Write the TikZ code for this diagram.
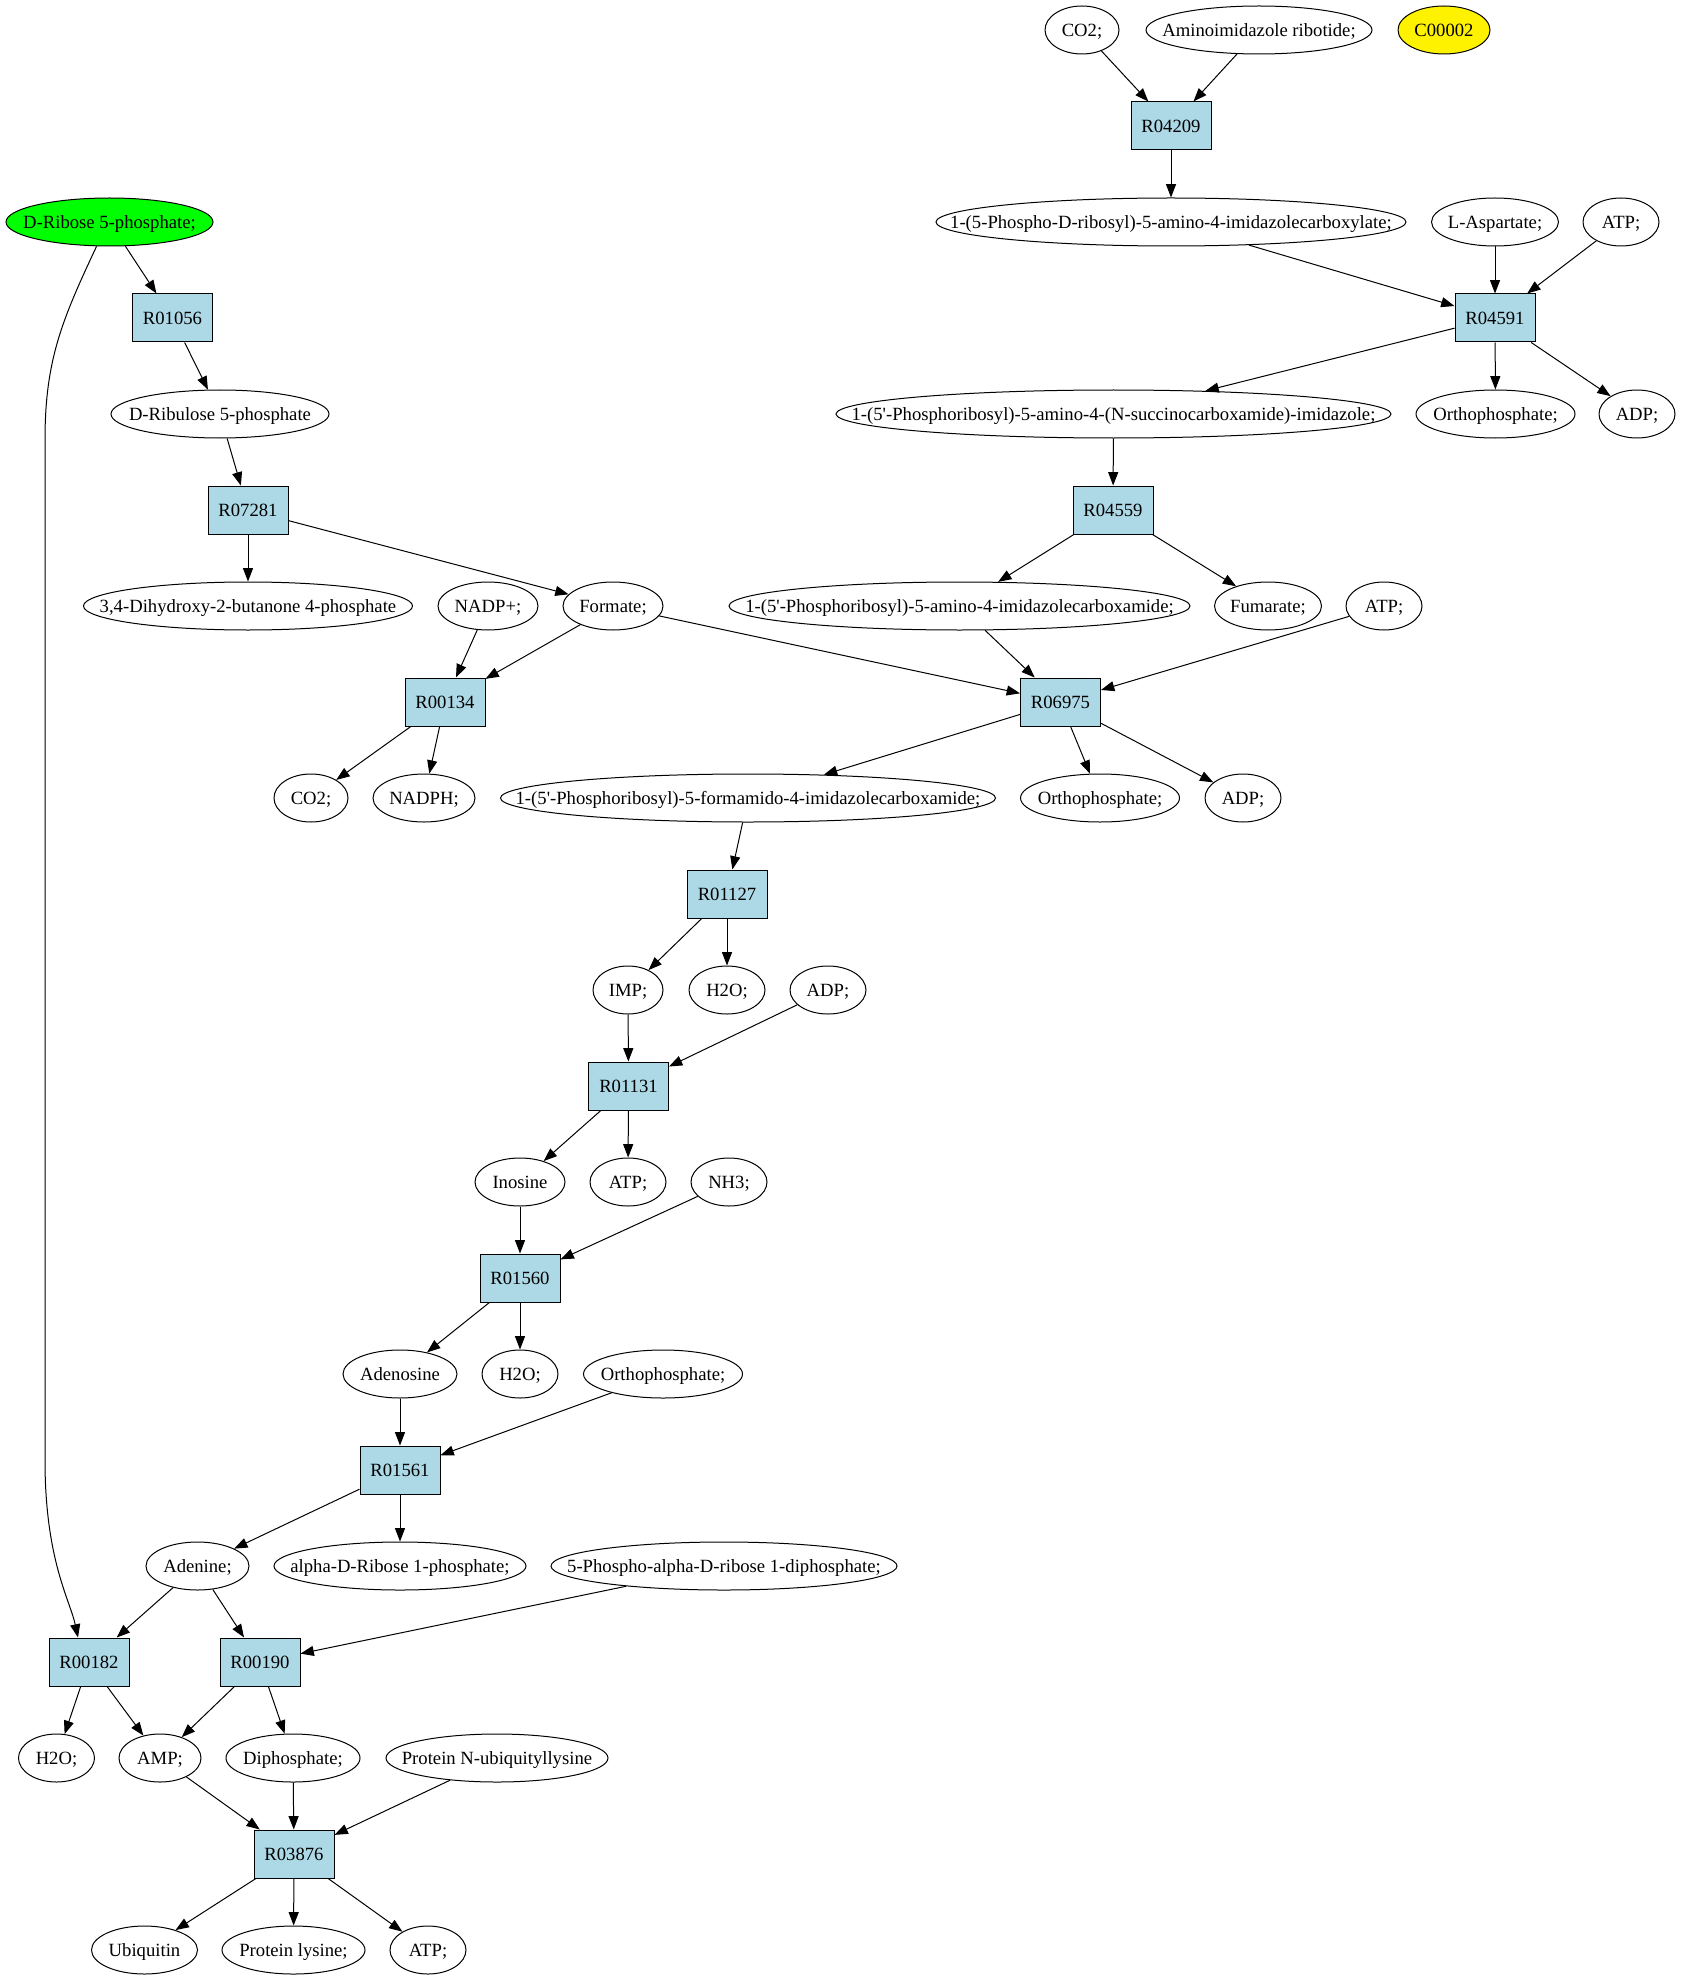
\documentclass[tikz,border=0pt]{standalone}
\usepackage{fontspec}
\setmainfont{Liberation Serif}
\usetikzlibrary{arrows.meta,shapes.geometric}
\definecolor{rxblue}{HTML}{ADD8E6}
\newcommand\zw[1]{\makebox[0pt]{#1}}
\begin{document}
\begin{tikzpicture}[x=0.75pt,y=-0.75pt,
  font=\fontsize{14pt}{16pt}\selectfont,
  met/.style={ellipse,draw,line width=0.75pt,inner sep=0pt,text height=12.3pt,text depth=3pt,minimum height=36pt,minimum width=#1*0.75pt},
  rxn/.style={rectangle,draw,fill=rxblue,line width=0.75pt,text height=12.3pt,text depth=3pt,minimum width=60pt,minimum height=36pt,inner sep=0pt},
  arr/.style={-{Triangle[length=10pt,width=7.5pt]},line width=0.75pt}]
\useasboundingbox (0,0) rectangle (1681,1979);
% row 0
\node[met=74] (co2a) at (1082,30) {\zw{CO2;}};
\node[met=226] (aimr) at (1259,30) {\zw{Aminoimidazole ribotide;}};
\node[met=92,fill=yellow] (c2) at (1444,30) {\zw{C00002}};
% row 1
\node[rxn] (r04209) at (1171,126) {R04209};
% row 2
\node[met=207,fill=green] (drib) at (109.5,222) {\zw{D-Ribose 5-phosphate;}};
\node[met=470] (carb) at (1171,222) {\zw{1-(5-Phospho-D-ribosyl)-5-amino-4-imidazolecarboxylate;}};
\node[met=127] (asp) at (1495,222) {\zw{L-Aspartate;}};
\node[met=76] (atpa) at (1621,222) {\zw{ATP;}};
% row 3
\node[rxn] (r01056) at (172.5,318) {R01056};
\node[rxn] (r04591) at (1495,318) {R04591};
% row 4
\node[met=218] (drul) at (220,414) {\zw{D-Ribulose 5-phosphate}};
\node[met=555] (succ) at (1113.5,414) {\zw{1-(5\textquotesingle-Phosphoribosyl)-5-amino-4-(N-succinocarboxamide)-imidazole;}};
\node[met=159] (orthoa) at (1495.5,414) {\zw{Orthophosphate;}};
\node[met=76] (adpa) at (1637,414) {\zw{ADP;}};
% row 5
\node[rxn] (r07281) at (248,510) {R07281};
\node[rxn] (r04559) at (1113,510) {R04559};
% row 6
\node[met=329] (dhb) at (248,606) {\zw{3,4-Dihydroxy-2-butanone 4-phosphate}};
\node[met=100] (nadp) at (488,606) {\zw{NADP+;}};
\node[met=100] (form) at (613,606) {\zw{Formate;}};
\node[met=461] (aica) at (959.5,606) {\zw{1-(5\textquotesingle-Phosphoribosyl)-5-amino-4-imidazolecarboxamide;}};
\node[met=107] (fum) at (1268,606) {\zw{Fumarate;}};
\node[met=76] (atpb) at (1384,606) {\zw{ATP;}};
% row 7
\node[rxn] (r00134) at (445,702) {R00134};
\node[rxn] (r06975) at (1060.5,702) {R06975};
% row 8
\node[met=74] (co2b) at (311,798) {\zw{CO2;}};
\node[met=102] (nadph) at (424,798) {\zw{NADPH;}};
\node[met=495] (faica) at (748,798) {\zw{1-(5\textquotesingle-Phosphoribosyl)-5-formamido-4-imidazolecarboxamide;}};
\node[met=159] (orthob) at (1100,798) {\zw{Orthophosphate;}};
\node[met=76] (adpb) at (1243,798) {\zw{ADP;}};
% row 9
\node[rxn] (r01127) at (727,894) {R01127};
% row 10
\node[met=70] (imp) at (628,990) {\zw{IMP;}};
\node[met=76] (h2oa) at (727,990) {\zw{H2O;}};
\node[met=76] (adpc) at (828,990) {\zw{ADP;}};
% row 11
\node[rxn] (r01131) at (628.5,1086) {R01131};
% row 12
\node[met=90] (ino) at (520,1182) {\zw{Inosine}};
\node[met=76] (atpc) at (628,1182) {\zw{ATP;}};
\node[met=76] (nh3) at (729,1182) {\zw{NH3;}};
% row 13
\node[rxn] (r01560) at (520,1278) {R01560};
% row 14
\node[met=114] (ados) at (400,1374) {\zw{Adenosine}};
\node[met=76] (h2ob) at (520,1374) {\zw{H2O;}};
\node[met=159] (orthoc) at (663,1374) {\zw{Orthophosphate;}};
% row 15
\node[rxn] (r01561) at (400,1470) {R01561};
% row 16
\node[met=103] (ade) at (197.5,1566) {\zw{Adenine;}};
\node[met=252] (a1p) at (400,1566) {\zw{alpha-D-Ribose 1-phosphate;}};
\node[met=346] (prpp) at (724,1566) {\zw{5-Phospho-alpha-D-ribose 1-diphosphate;}};
% row 17
\node[rxn] (r00182) at (89,1662) {R00182};
\node[rxn] (r00190) at (260,1662) {R00190};
% row 18
\node[met=76] (h2oc) at (56.5,1758) {\zw{H2O;}};
\node[met=82] (amp) at (160,1758) {\zw{AMP;}};
\node[met=134] (dip) at (293,1758) {\zw{Diphosphate;}};
\node[met=222] (pnub) at (497,1758) {\zw{Protein N-ubiquityllysine}};
% row 19
\node[rxn] (r03876) at (294,1854) {R03876};
% row 20
\node[met=106] (ubq) at (144.5,1950) {\zw{Ubiquitin}};
\node[met=143] (plys) at (293.5,1950) {\zw{Protein lysine;}};
\node[met=76] (atpd) at (428,1950) {\zw{ATP;}};

% edges
\draw[arr] (co2a) -- (r04209);
\draw[arr] (aimr) -- (r04209);
\draw[arr] (r04209) -- (carb);
\draw[arr] (carb) -- (r04591);
\draw[arr] (asp) -- (r04591);
\draw[arr] (atpa) -- (r04591);
\draw[arr] (r04591) -- (succ);
\draw[arr] (r04591) -- (orthoa);
\draw[arr] (r04591) -- (adpa);
\draw[arr] (succ) -- (r04559);
\draw[arr] (r04559) -- (aica);
\draw[arr] (r04559) -- (fum);
\draw[arr] (aica) -- (r06975);
\draw[arr] (atpb) -- (r06975);
\draw[arr] (form) -- (r06975);
\draw[arr] (r06975) -- (faica);
\draw[arr] (r06975) -- (orthob);
\draw[arr] (r06975) -- (adpb);
\draw[arr] (drib) -- (r01056);
\draw[arr] (drib.-118) .. controls (62,320) and (45,360) .. (45,440) -- (45,1460) .. controls (45,1560) and (70,1600) .. ([xshift=-8.25pt]r00182.north);
\draw[arr] (r01056) -- (drul);
\draw[arr] (drul) -- (r07281);
\draw[arr] (r07281) -- (dhb);
\draw[arr] (r07281) -- (form);
\draw[arr] (nadp) -- (r00134);
\draw[arr] (form) -- (r00134);
\draw[arr] (r00134) -- (co2b);
\draw[arr] (r00134) -- (nadph);
\draw[arr] (faica) -- (r01127);
\draw[arr] (r01127) -- (imp);
\draw[arr] (r01127) -- (h2oa);
\draw[arr] (imp) -- (r01131);
\draw[arr] (adpc) -- (r01131);
\draw[arr] (r01131) -- (ino);
\draw[arr] (r01131) -- (atpc);
\draw[arr] (ino) -- (r01560);
\draw[arr] (nh3) -- (r01560);
\draw[arr] (r01560) -- (ados);
\draw[arr] (r01560) -- (h2ob);
\draw[arr] (ados) -- (r01561);
\draw[arr] (orthoc) -- (r01561);
\draw[arr] (r01561) -- (ade);
\draw[arr] (r01561) -- (a1p);
\draw[arr] (ade) -- (r00182);
\draw[arr] (ade) -- (r00190);
\draw[arr] (prpp) -- (r00190);
\draw[arr] (r00182) -- (h2oc);
\draw[arr] (r00182) -- (amp);
\draw[arr] (r00190) -- (amp);
\draw[arr] (r00190) -- (dip);
\draw[arr] (amp) -- (r03876);
\draw[arr] (dip) -- (r03876);
\draw[arr] (pnub) -- (r03876);
\draw[arr] (r03876) -- (ubq);
\draw[arr] (r03876) -- (plys);
\draw[arr] (r03876) -- (atpd);
\end{tikzpicture}
\end{document}
